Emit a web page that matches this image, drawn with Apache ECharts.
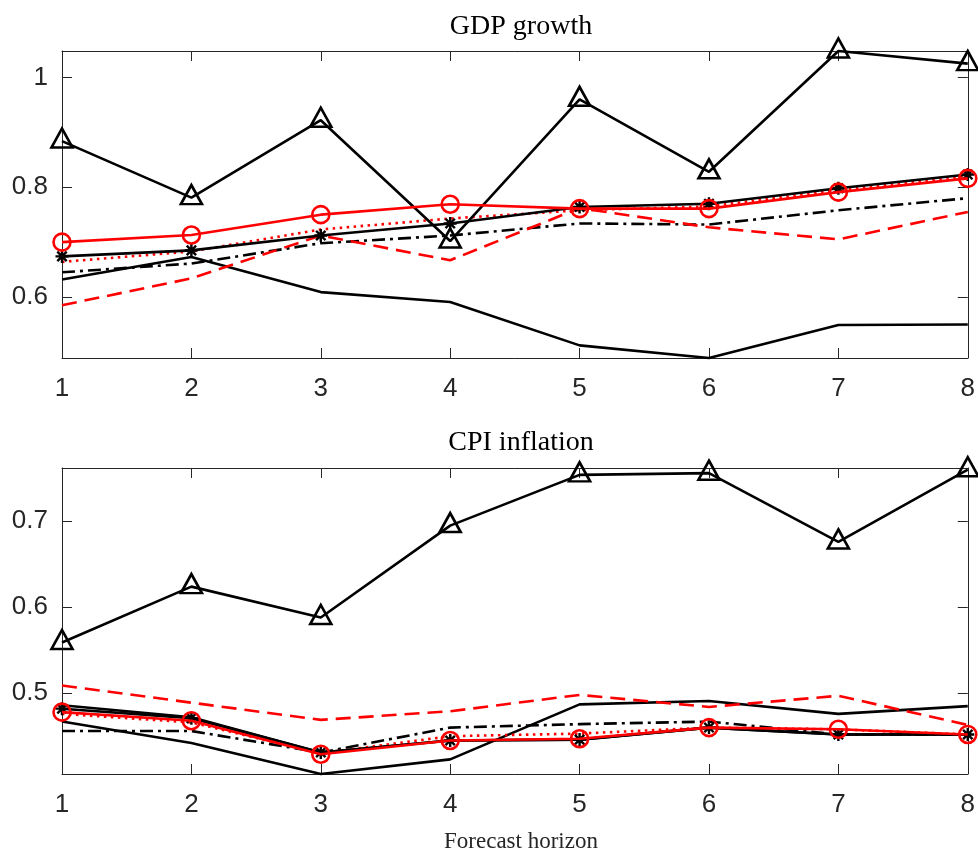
<!DOCTYPE html>
<html>
<head>
<meta charset="utf-8">
<script src="https://cdn.jsdelivr.net/npm/echarts@6/dist/echarts.min.js"></script>
<style>html,body{margin:0;padding:0;background:#fff}#c{width:978px;height:852px}</style>
</head>
<body>
<div id="c"></div>
<script>
// ---- data ----
const horizon = [1, 2, 3, 4, 5, 6, 7, 8];
const gdpTicks = [0.6, 0.8, 1.0];
const cpiTicks = [0.5, 0.6, 0.7];
const gdpRange = [0.489, 1.048];
const cpiRange = [0.406, 0.762];

const gdpUpper   = [0.884, 0.781, 0.922, 0.702, 0.960, 0.828, 1.048, 1.025];
const gdpLower   = [0.632, 0.673, 0.609, 0.591, 0.512, 0.489, 0.549, 0.550];
const gdpStar    = [0.674, 0.685, 0.712, 0.734, 0.764, 0.770, 0.798, 0.823];
const gdpDashDot = [0.645, 0.661, 0.698, 0.712, 0.734, 0.732, 0.758, 0.780];
const gdpCircle  = [0.700, 0.713, 0.750, 0.769, 0.761, 0.761, 0.791, 0.816];
const gdpDotted  = [0.664, 0.683, 0.723, 0.743, 0.758, 0.765, 0.795, 0.820];
const gdpDashed  = [0.585, 0.634, 0.712, 0.667, 0.762, 0.727, 0.705, 0.755];

const cpiUpper   = [0.559, 0.624, 0.588, 0.695, 0.754, 0.756, 0.676, 0.760];
const cpiBandA   = [0.486, 0.472, 0.431, 0.445, 0.446, 0.460, 0.452, 0.452];
const cpiBandB   = [0.467, 0.442, 0.406, 0.423, 0.487, 0.491, 0.476, 0.485];
const cpiStar    = [0.482, 0.471, 0.431, 0.445, 0.446, 0.460, 0.452, 0.452];
const cpiDashDot = [0.456, 0.456, 0.431, 0.460, 0.464, 0.467, 0.452, 0.452];
const cpiCircle  = [0.478, 0.468, 0.429, 0.445, 0.447, 0.460, 0.458, 0.452];
const cpiDotted  = [0.476, 0.466, 0.430, 0.450, 0.453, 0.460, 0.458, 0.452];
const cpiDashed  = [0.509, 0.489, 0.469, 0.479, 0.498, 0.484, 0.497, 0.463];

// ---- helpers ----
const pair = ys => horizon.map((h, i) => [h, ys[i]]);
const AX = '#262626';
const LW = 2.6;
const starPath = 'path://M0,-1L0,1M-1,0L1,0M-0.72,-0.72L0.72,0.72M-0.72,0.72L0.72,-0.72';
const triPath = 'path://M0,-1L1.1,1L-1.1,1Z';

function mk(ys, g, color, dash, symbol, size, z, offset) {
  const s = {
    type: 'line', xAxisIndex: g * 2, yAxisIndex: g * 2,
    data: pair(ys), clip: false, silent: true, animation: false,
    lineStyle: { color: color, width: LW, type: dash || 'solid' },
    itemStyle: { color: color },
    showSymbol: !!symbol, symbol: symbol || 'none', symbolSize: size || 0,
    z: z || 2
  };
  if (offset) s.symbolOffset = offset;
  if (symbol) {
    s.itemStyle = { color: 'rgba(0,0,0,0)', borderColor: color, borderWidth: LW };
    if (symbol === starPath) s.itemStyle = { color: color, borderColor: color, borderWidth: 2.4 };
  }
  return s;
}

const grids = [
  { left: 62, top: 51, width: 908, height: 307 },
  { left: 62, top: 468, width: 908, height: 306 }
];
const xAxes = [], yAxes = [];
[[gdpRange, gdpTicks], [cpiRange, cpiTicks]].forEach(([rng, ticks], g) => {
  const lineS = { show: true, lineStyle: { color: AX, width: 1 } };
  xAxes.push({
    type: 'value', gridIndex: g, position: 'bottom', min: 1, max: 8, interval: 1,
    axisLine: lineS, axisTick: { inside: true, length: 10, lineStyle: { color: AX } },
    axisLabel: { color: AX, fontFamily: 'Liberation Sans', fontSize: 26, margin: 18 },
    splitLine: { show: false }
  });
  xAxes.push({
    type: 'value', gridIndex: g, position: 'top', min: 1, max: 8, interval: 1,
    axisLine: lineS, axisTick: { inside: true, length: 10, lineStyle: { color: AX } },
    axisLabel: { show: false }, splitLine: { show: false }
  });
  yAxes.push({
    type: 'value', gridIndex: g, position: 'left', min: rng[0], max: rng[1],
    axisLine: lineS,
    axisTick: { inside: true, length: 10, lineStyle: { color: AX }, customValues: ticks },
    axisLabel: { color: AX, fontFamily: 'Liberation Sans', fontSize: 26, margin: 14, customValues: ticks },
    splitLine: { show: false }
  });
  yAxes.push({
    type: 'value', gridIndex: g, position: 'right', min: rng[0], max: rng[1],
    axisLine: lineS,
    axisTick: { inside: true, length: 10, lineStyle: { color: AX }, customValues: ticks },
    axisLabel: { show: false, customValues: ticks }, splitLine: { show: false }
  });
});

const RED = '#ff0000', BLK = '#000000';
const series = [
  mk(gdpUpper, 0, BLK, 'solid', triPath, [21, 19], 3, [0, -3]),
  mk(gdpLower, 0, BLK, 'solid'),
  mk(gdpDashDot, 0, BLK, [13, 5, 3, 5]),
  mk(gdpDashed, 0, RED, [15, 8]),
  mk(gdpDotted, 0, RED, [2.5, 4.5]),
  mk(gdpStar, 0, BLK, 'solid', starPath, 13, 4),
  mk(gdpCircle, 0, RED, 'solid', 'circle', 17, 5),

  mk(cpiUpper, 1, BLK, 'solid', triPath, [21, 19], 3, [0, -3]),
  mk(cpiBandA, 1, BLK, 'solid'),
  mk(cpiBandB, 1, BLK, 'solid'),
  mk(cpiDashDot, 1, BLK, [13, 5, 3, 5]),
  mk(cpiDashed, 1, RED, [15, 8]),
  mk(cpiDotted, 1, RED, [2.5, 4.5]),
  mk(cpiStar, 1, BLK, 'solid', starPath, 13, 4),
  mk(cpiCircle, 1, RED, 'solid', 'circle', 17, 5)
];

const chart = echarts.init(document.getElementById('c'), null, { renderer: 'canvas' });
chart.setOption({
  backgroundColor: '#ffffff',
  animation: false,
  title: [
    { text: 'GDP growth', left: 516, top: 8, textAlign: 'center',
      textStyle: { fontFamily: 'Liberation Serif', fontSize: 28, fontWeight: 'normal', color: '#000' } },
    { text: 'CPI inflation', left: 516, top: 424, textAlign: 'center',
      textStyle: { fontFamily: 'Liberation Serif', fontSize: 28, fontWeight: 'normal', color: '#000' } },
    { text: 'Forecast horizon', left: 516, top: 825, textAlign: 'center',
      textStyle: { fontFamily: 'Liberation Serif', fontSize: 23, fontWeight: 'normal', color: '#262626' } }
  ],
  grid: grids,
  xAxis: xAxes,
  yAxis: yAxes,
  series: series
});
</script>
</body>
</html>
